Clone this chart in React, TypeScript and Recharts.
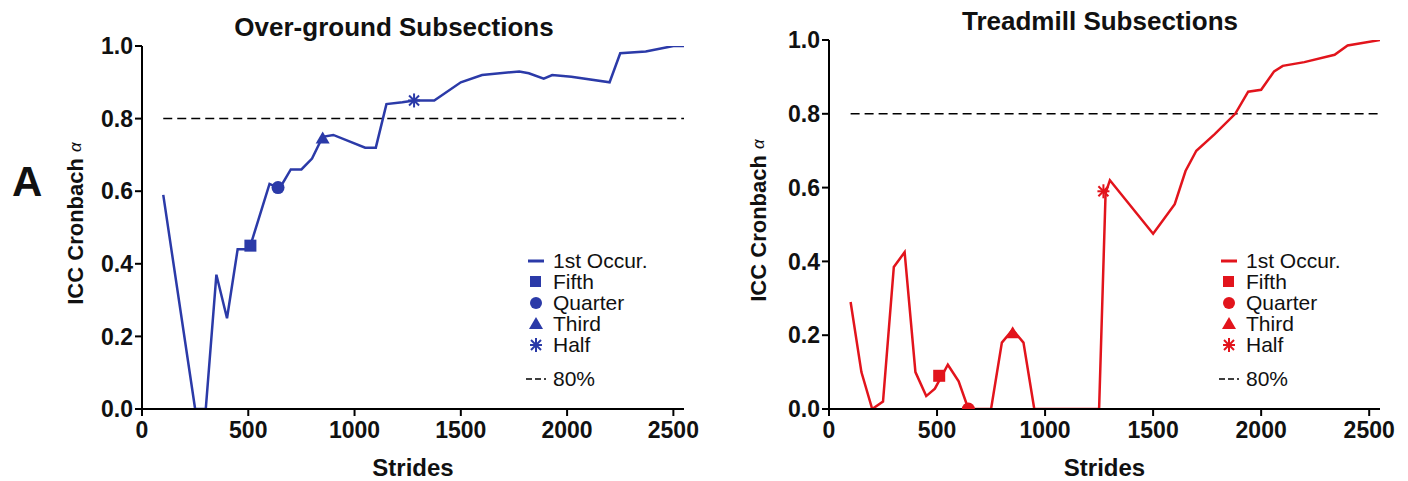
import React from 'react';
import { ComposedChart, Line, Scatter, XAxis, YAxis, ReferenceLine } from 'recharts';

// Over-ground subsections (blue)
const overgroundStrides = [100, 250, 300, 350, 400, 450, 490, 510, 600, 640, 660, 700, 750, 800, 850, 900, 1050, 1100, 1150, 1225, 1280, 1300, 1375, 1500, 1600, 1775, 1820, 1890, 1930, 2020, 2200, 2250, 2370, 2500, 2550];
const overgroundIcc = [0.59, 0, 0, 0.37, 0.25, 0.44, 0.44, 0.45, 0.62, 0.61, 0.62, 0.66, 0.66, 0.69, 0.75, 0.755, 0.72, 0.72, 0.84, 0.845, 0.85, 0.85, 0.85, 0.9, 0.92, 0.93, 0.925, 0.91, 0.92, 0.915, 0.9, 0.98, 0.985, 1.0, 1.0];
const overgroundMarkers = { fifth: [510, 0.45], quarter: [640, 0.61], third: [850, 0.745], half: [1280, 0.85] };

// Treadmill subsections (red)
const treadmillStrides = [100, 150, 200, 250, 300, 350, 400, 450, 490, 550, 600, 645, 750, 800, 850, 900, 950, 1250, 1280, 1300, 1500, 1600, 1650, 1700, 1785, 1880, 1940, 2000, 2060, 2100, 2200, 2340, 2400, 2550];
const treadmillIcc = [0.29, 0.1, 0, 0.02, 0.385, 0.425, 0.1, 0.035, 0.055, 0.12, 0.075, 0, 0, 0.18, 0.215, 0.18, 0, 0, 0.585, 0.62, 0.475, 0.555, 0.645, 0.7, 0.745, 0.8, 0.86, 0.865, 0.915, 0.93, 0.94, 0.96, 0.985, 1.0];
const treadmillMarkers = { fifth: [510, 0.09], quarter: [645, 0], third: [850, 0.205], half: [1270, 0.59] };

const xTicks = [0, 500, 1000, 1500, 2000, 2500];
const yTicks = [0, 0.2, 0.4, 0.6, 0.8, 1.0];
const threshold = 0.8;
const legendLabels = ['1st Occur.', 'Fifth', 'Quarter', 'Third', 'Half', '80%'];

const FONT = "'Liberation Sans', Arial, Helvetica, sans-serif";

const toRows = (xs: number[], ys: number[]) => xs.map((x, i) => ({ x, y: ys[i] }));
const pt = (p: number[]) => [{ x: p[0], y: p[1] }];

const Square = (color: string) => (p: any) => <rect x={p.cx - 6} y={p.cy - 6} width={12} height={12} fill={color} />;
const Dot = (color: string) => (p: any) => <circle cx={p.cx} cy={p.cy} r={6.5} fill={color} />;
const Tri = (color: string) => (p: any) => (
  <polygon points={`${p.cx},${p.cy - 7} ${p.cx + 7},${p.cy + 5} ${p.cx - 7},${p.cy + 5}`} fill={color} />
);
const Star = (color: string) => (p: any) => (
  <g stroke={color} strokeWidth={2}>
    <line x1={p.cx - 6} y1={p.cy} x2={p.cx + 6} y2={p.cy} />
    <line x1={p.cx} y1={p.cy - 7} x2={p.cx} y2={p.cy + 7} />
    <line x1={p.cx - 5} y1={p.cy - 5} x2={p.cx + 5} y2={p.cy + 5} />
    <line x1={p.cx - 5} y1={p.cy + 5} x2={p.cx + 5} y2={p.cy - 5} />
  </g>
);

const legendIcon = (i: number, color: string) => {
  const c = { cx: 10, cy: 10 };
  if (i === 0) return <line x1={2} y1={10} x2={18} y2={10} stroke={color} strokeWidth={3} />;
  if (i === 1) return <rect x={4} y={4} width={11} height={11} fill={color} />;
  if (i === 2) return <circle cx={10} cy={10} r={6} fill={color} />;
  if (i === 3) return Tri(color)(c);
  if (i === 4) return Star(color)(c);
  return <line x1={0} y1={10} x2={20} y2={10} stroke="#000" strokeWidth={1.5} strokeDasharray="6 3" />;
};

const PanelLegend = ({ color, left, top }: { color: string; left: number; top: number }) => (
  <div style={{ position: 'absolute', left, top, fontFamily: FONT, fontSize: 21, lineHeight: '21px', color: '#111' }}>
    {legendLabels.map((label, i) => (
      <div key={label} style={{ display: 'flex', alignItems: 'center', height: 21, marginTop: i === 5 ? 13 : 0 }}>
        <svg width={20} height={20} style={{ marginRight: 7 }}>{legendIcon(i, color)}</svg>
        <span>{label}</span>
      </div>
    ))}
  </div>
);

interface PanelProps {
  title: string;
  rows: { x: number; y: number }[];
  markers: { fifth: number[]; quarter: number[]; third: number[]; half: number[] };
  color: string;
  left: number;
  width: number;
  margin: { top: number; right: number; left: number; bottom: number };
  yLabelX: number;
  titleTop: number;
  titleCenter: number;
  legendPos: { left: number; top: number };
}

const Panel: React.FC<PanelProps> = ({ title, rows, markers, color, left, width, margin, yLabelX, titleTop, titleCenter, legendPos }) => {
  const yLabel = (props: any) => {
    const vb = props.viewBox;
    const cy = vb.y + vb.height / 2 - 4;
    return (
      <text x={yLabelX} y={cy} transform={`rotate(-90, ${yLabelX}, ${cy})`} textAnchor="middle" dominantBaseline="central"
        fontSize={22} fontWeight="bold" fill="#111" fontFamily={FONT}>
        ICC Cronbach <tspan fontWeight="normal" fontStyle="italic" fontSize={17}>α</tspan>
      </text>
    );
  };
  const xLabel = (props: any) => {
    const vb = props.viewBox;
    const cx = vb.x + vb.width / 2;
    return (
      <text x={cx} y={476} textAnchor="middle" fontSize={24} fontWeight="bold" fill="#111" fontFamily={FONT}>Strides</text>
    );
  };
  return (
    <div style={{ position: 'absolute', left, top: 0, width, height: 481, fontFamily: FONT }}>
      <div style={{ position: 'absolute', left: titleCenter - 250, width: 500, top: titleTop, textAlign: 'center', fontSize: 26, fontWeight: 'bold', lineHeight: '26px', color: '#111' }}>
        {title}
      </div>
      <ComposedChart width={width} height={481} data={rows} margin={margin}>
        <XAxis dataKey="x" type="number" domain={[0, 2550]} ticks={xTicks} interval={0} height={72}
          stroke="#000" strokeWidth={2} tickSize={7} tickMargin={6} tickLine={{ stroke: '#000', strokeWidth: 2 }}
          tick={{ fill: '#111', fontSize: 23, fontWeight: 'bold' }} allowDataOverflow label={xLabel} />
        <YAxis type="number" domain={[0, 1]} ticks={yTicks} interval={0} width={50} allowDataOverflow
          stroke="#000" strokeWidth={2} tickSize={7} tickMargin={2} tickLine={{ stroke: '#000', strokeWidth: 2 }}
          tickFormatter={(v: number) => v.toFixed(1)}
          tick={{ fill: '#111', fontSize: 23, fontWeight: 'bold' }} label={yLabel} />
        <ReferenceLine segment={[{ x: 100, y: threshold }, { x: 2550, y: threshold }]} stroke="#000" strokeWidth={1.5} strokeDasharray="9 5" />
        <Line type="linear" dataKey="y" stroke={color} strokeWidth={2.5} dot={false} isAnimationActive={false} />
        <Scatter data={pt(markers.fifth)} dataKey="y" shape={Square(color)} isAnimationActive={false} />
        <Scatter data={pt(markers.quarter)} dataKey="y" shape={Dot(color)} isAnimationActive={false} />
        <Scatter data={pt(markers.third)} dataKey="y" shape={Tri(color)} isAnimationActive={false} />
        <Scatter data={pt(markers.half)} dataKey="y" shape={Star(color)} isAnimationActive={false} />
      </ComposedChart>
      <PanelLegend color={color} left={legendPos.left} top={legendPos.top} />
    </div>
  );
};

export default function App() {
  return (
    <div style={{ position: 'absolute', left: 0, top: 0, width: 1408, height: 481, background: '#fff', fontFamily: FONT }}>
      <div style={{ position: 'absolute', left: 12, top: 158, fontSize: 42, fontWeight: 'bold', color: '#111' }}>A</div>
      <Panel title="Over-ground Subsections" rows={toRows(overgroundStrides, overgroundIcc)} markers={overgroundMarkers}
        color="#2b3aa8" left={0} width={700} margin={{ top: 46, right: 16, left: 92, bottom: 0 }}
        yLabelX={75} titleTop={14} titleCenter={394} legendPos={{ left: 526, top: 250 }} />
      <Panel title="Treadmill Subsections" rows={toRows(treadmillStrides, treadmillIcc)} markers={treadmillMarkers}
        color="#e2141c" left={700} width={708} margin={{ top: 40, right: 28, left: 79, bottom: 0 }}
        yLabelX={58} titleTop={8} titleCenter={400} legendPos={{ left: 519, top: 250 }} />
    </div>
  );
}
